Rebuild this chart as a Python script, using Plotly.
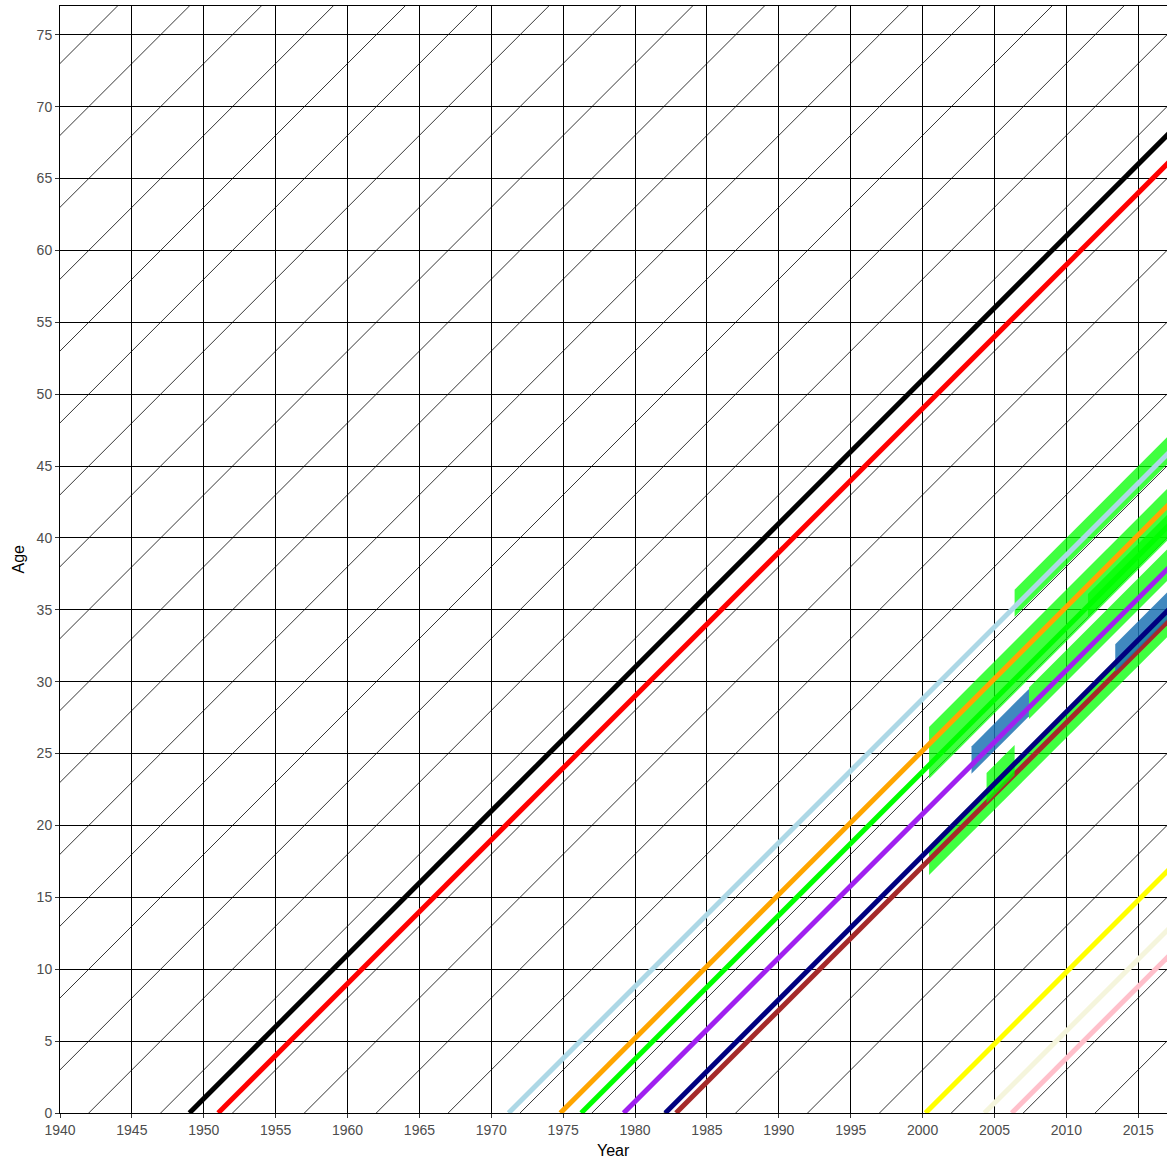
import plotly.graph_objects as go

# ---- data ----
x_range = [1940, 2017]
y_range = [0, 77]
x_ticks = list(range(1940, 2016, 5))
y_ticks = list(range(0, 76, 5))
end_year = 2017

# reference lifelines (every 5 birth years)
ref_births = list(range(1867, 2013, 5))

# individual lifelines: birth year, colour
persons = ["p1", "p2", "p3", "p4", "p5", "p6", "p7", "p8", "p9", "p10", "p11"]
births = [1949.0, 1951.0, 1971.2, 1974.8, 1976.25, 1979.2, 1982.1, 1982.85, 2000.2, 2004.3, 2006.2]
colors = ["#000000", "#FF0000", "#ADD8E6", "#FFA500", "#00FF00", "#A020F0",
          "#000080", "#A52A2A", "#FFFF00", "#F5F5DC", "#FFC0CB"]

# episodes (bands): birth-range low, birth-range high, start year, end year, kind, layer
band_b_lo = [1970.0, 1973.6, 1975.4, 1977.8, 1977.9, 1981.9, 1980.8, 1980.8]
band_b_hi = [1971.9, 1977.2, 1977.0, 1980.0, 1979.8, 1983.9, 1982.9, 1982.7]
band_start = [2006.4, 2000.45, 2011.5, 2007.4, 2003.4, 2000.45, 2004.45, 2013.4]
band_end = [2017, 2017, 2017, 2017, 2007.4, 2017, 2006.4, 2017]
band_kind = ["green", "green", "green", "green", "blue", "green", "green", "blue"]
band_layer = [0, 0, 0, 0, 0, 0, 1, 1]

band_colors = {"green": "rgba(0,255,0,0.75)", "blue": "rgba(30,115,180,0.85)"}

fig = go.Figure()

# reference diagonals
rx, ry = [], []
for b in ref_births:
    rx += [b, b + 90, None]
    ry += [0, 90, None]
fig.add_trace(go.Scatter(x=rx, y=ry, mode="lines",
                         line=dict(color="black", width=0.8),
                         hoverinfo="skip", showlegend=False))


def add_band(i):
    lo, hi, s, e = band_b_lo[i], band_b_hi[i], band_start[i], band_end[i]
    xs = [s, e, e, s, s]
    ys = [s - hi, e - hi, e - lo, s - lo, s - hi]
    fig.add_trace(go.Scatter(x=xs, y=ys, mode="lines", fill="toself",
                             fillcolor=band_colors[band_kind[i]],
                             line=dict(width=0), hoverinfo="skip",
                             showlegend=False))


def add_person(j):
    b = births[j]
    fig.add_trace(go.Scatter(x=[b, end_year + 0.5], y=[0, end_year + 0.5 - b],
                             mode="lines", line=dict(color=colors[j], width=5),
                             name=persons[j], showlegend=False))


for i in range(len(band_b_lo)):
    if band_layer[i] == 0:
        add_band(i)
for j in range(len(births)):
    if persons[j] != "p7":
        add_person(j)
for i in range(len(band_b_lo)):
    if band_layer[i] == 1:
        add_band(i)
add_person(persons.index("p7"))

axis_common = dict(showgrid=True, gridcolor="black", gridwidth=1,
                   zeroline=False, showline=True, linecolor="black",
                   linewidth=1, mirror=True, ticks="outside", ticklen=4,
                   tickcolor="#333333", automargin=False,
                   tickfont=dict(family="Liberation Sans, Arial", size=14,
                                 color="#4D4D4D"))

fig.update_xaxes(range=x_range, tickvals=x_ticks, **axis_common)
fig.update_yaxes(range=y_range, tickvals=y_ticks, **axis_common)

fig.add_annotation(text="Year", xref="paper", yref="paper", x=0.5, y=0,
                   yshift=-37, showarrow=False, yanchor="middle",
                   font=dict(family="Liberation Sans, Arial", size=16, color="black"))
fig.add_annotation(text="Age", xref="paper", yref="paper", x=0, y=0.5,
                   xshift=-42, showarrow=False, textangle=-90, xanchor="center",
                   font=dict(family="Liberation Sans, Arial", size=16, color="black"))

fig.update_layout(width=1167, height=1164,
                  margin=dict(l=60, r=0, t=6, b=51),
                  plot_bgcolor="white", paper_bgcolor="white")

fig.write_html("out.html", config={"displayModeBar": False},
               post_script="document.body.style.margin='0';"
                           "document.body.style.overflow='hidden';")
